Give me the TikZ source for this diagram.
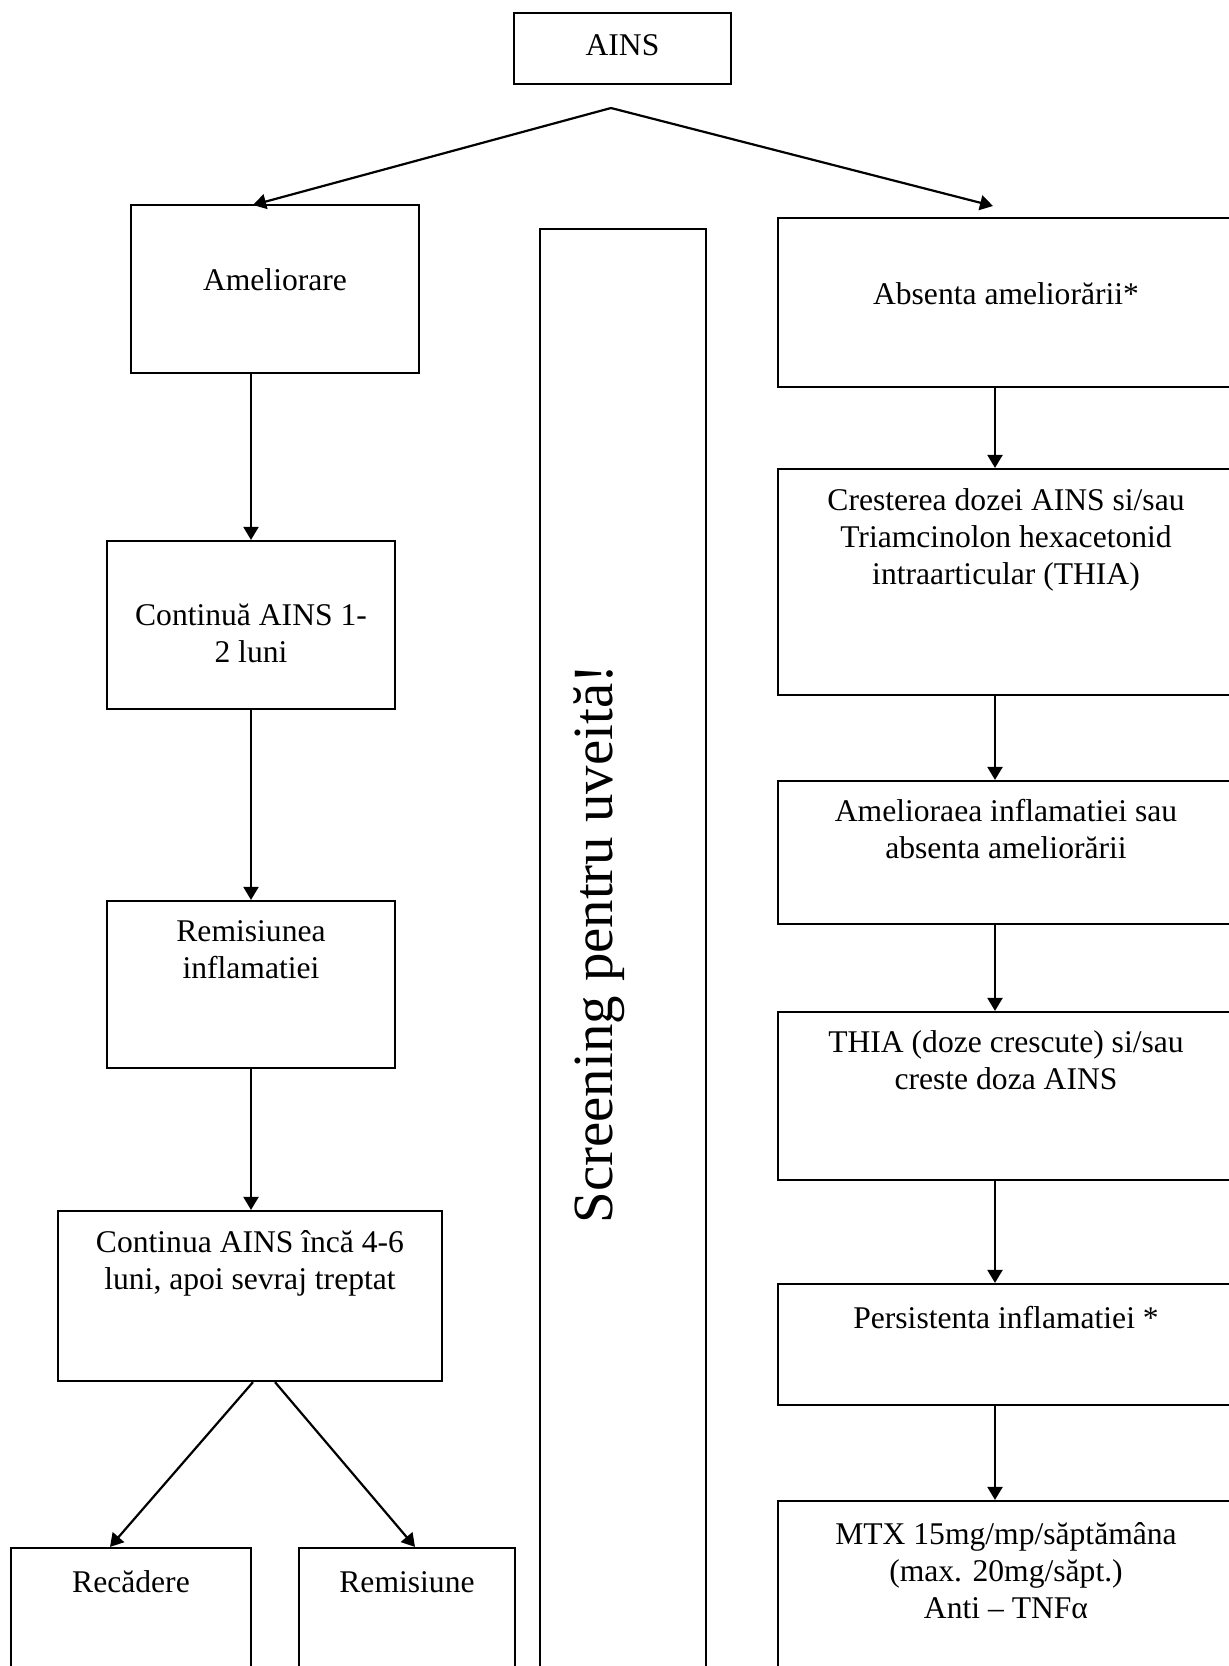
\documentclass[tikz,border=0pt]{standalone}
\usepackage{fontspec}
\setmainfont{Liberation Serif}
\usetikzlibrary{arrows.meta}
\newcommand\mainf{\fontsize{15.8}{18.5}\selectfont}
\newcommand\bigf{\fontsize{28.4}{34}\selectfont}
\begin{document}
\begin{tikzpicture}[x=0.5pt, y=-0.5pt,
  box/.style={draw, rectangle, line width=1.1pt, inner sep=0pt},
  lbl/.style={anchor=north, inner sep=0pt, align=center, font=\mainf},
  arr/.style={-{Triangle[length=6.5pt,width=7.5pt]}, line width=1.1pt}]
\useasboundingbox (0,0) rectangle (1228,1666);
% boxes
\node[box, minimum width=108.5pt, minimum height=35.5pt] (ains) at (622.5,48.5) {};
\node[box, minimum width=144pt, minimum height=84pt] (amel) at (275,289) {};
\node[box, minimum width=83pt, minimum height=725.5pt] (scr) at (623,954.5) {};
\node[box, minimum width=228pt, minimum height=84.5pt] (absent) at (1006,302.5) {};
\node[box, minimum width=144pt, minimum height=84pt] (cont1) at (251,625) {};
\node[box, minimum width=144pt, minimum height=83.5pt] (remi1) at (251,984.5) {};
\node[box, minimum width=192pt, minimum height=85pt] (cont2) at (250,1296) {};
\node[box, minimum width=120pt, minimum height=66pt] (recad) at (131,1614) {};
\node[box, minimum width=108pt, minimum height=66pt] (remi2) at (407,1614) {};
\node[box, minimum width=228pt, minimum height=113pt] (crest) at (1006,582) {};
\node[box, minimum width=228pt, minimum height=71.5pt] (amel2) at (1006,852.5) {};
\node[box, minimum width=228pt, minimum height=84pt] (thia) at (1006,1096) {};
\node[box, minimum width=228pt, minimum height=60.5pt] (pers) at (1006,1344.5) {};
\node[box, minimum width=228pt, minimum height=89.5pt] (mtx) at (1006,1590.5) {};
% texts
\node[lbl] (t-ains) at ([yshift=-8.6pt]ains.north) {\strut AINS};
\node[lbl] (t-amel) at ([yshift=-30.1pt]amel.north) {\strut Ameliorare};
\node[lbl] (t-absent) at ([yshift=-30.6pt]absent.north) {\strut Absenta ameliorării*};
\node[lbl] (t-cont1) at ([yshift=-29.6pt]cont1.north) {\strut Continuă AINS 1-\\2 luni};
\node[lbl] (t-remi1) at ([yshift=-7.6pt]remi1.north) {\strut Remisiunea\\inflamatiei};
\node[lbl] (t-cont2) at ([yshift=-8.1pt]cont2.north) {\strut Continua AINS încă 4-6\\luni, apoi sevraj treptat};
\node[lbl] (t-recad) at ([yshift=-9.6pt]recad.north) {\strut Recădere};
\node[lbl] (t-remi2) at ([yshift=-9.6pt]remi2.north) {\strut Remisiune};
\node[lbl] (t-crest) at ([yshift=-8.1pt]crest.north) {\strut Cresterea dozei AINS si/sau\\Triamcinolon hexacetonid\\intraarticular (THIA)};
\node[lbl] (t-amel2) at ([yshift=-7.6pt]amel2.north) {\strut Amelioraea inflamatiei sau\\absenta ameliorării};
\node[lbl] (t-thia) at ([yshift=-7.6pt]thia.north) {\strut THIA (doze crescute) si/sau\\creste doza AINS};
\node[lbl] (t-pers) at ([yshift=-9.6pt]pers.north) {\strut Persistenta inflamatiei *};
\node[lbl] (t-mtx) at ([yshift=-9.1pt]mtx.north) {\strut MTX 15mg/mp/săptămâna\\(max. 20mg/săpt.)\\Anti – TNFα};
\node[rotate=90, anchor=base, inner sep=0pt, font=\bigf] (t-scr) at (612,944) {Screening pentru uveită!};
% connectors
\coordinate (apex) at (611,108);
\coordinate (ltip) at (253,205);
\coordinate (rtip) at (993,206);
\coordinate (rx) at (995,0);
\draw[arr] (apex) -- (ltip);
\draw[arr] (apex) -- (rtip);
\draw[arr] (amel.south -| cont1.north) -- (cont1.north);
\draw[arr] (cont1.south) -- (remi1.north);
\draw[arr] (remi1.south) -- (cont2.north -| remi1.south);
\draw[arr] ([xshift=1.5pt]cont2.south) -- ([xshift=-10.5pt]recad.north);
\draw[arr] ([xshift=12.5pt]cont2.south) -- ([xshift=4pt]remi2.north);
\draw[arr] (absent.south -| rx) -- (crest.north -| rx);
\draw[arr] (crest.south -| rx) -- (amel2.north -| rx);
\draw[arr] (amel2.south -| rx) -- (thia.north -| rx);
\draw[arr] (thia.south -| rx) -- (pers.north -| rx);
\draw[arr] (pers.south -| rx) -- (mtx.north -| rx);
\end{tikzpicture}
\end{document}
